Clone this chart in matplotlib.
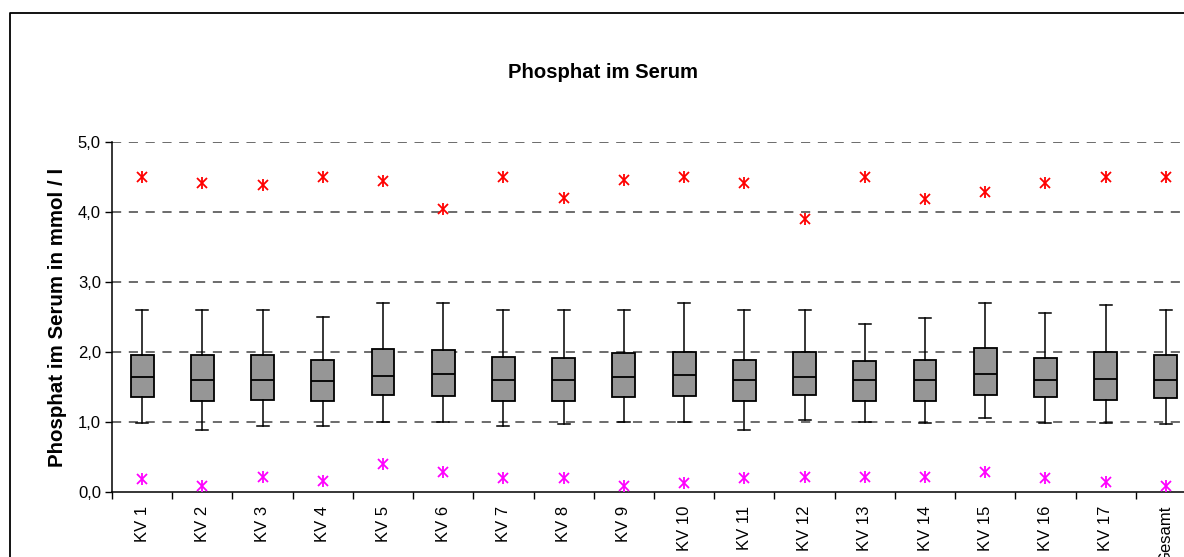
import matplotlib
matplotlib.use("Agg")
import matplotlib.pyplot as plt
from matplotlib.lines import Line2D

plt.rcParams['font.family'] = ['Liberation Sans', 'DejaVu Sans']

# Daten
kategorien = ['KV 1', 'KV 2', 'KV 3', 'KV 4', 'KV 5', 'KV 6', 'KV 7', 'KV 8', 'KV 9',
              'KV 10', 'KV 11', 'KV 12', 'KV 13', 'KV 14', 'KV 15', 'KV 16', 'KV 17', 'Gesamt']
maximum = [4.50, 4.42, 4.39, 4.50, 4.44, 4.05, 4.50, 4.20, 4.46,
           4.50, 4.41, 3.90, 4.50, 4.18, 4.29, 4.41, 4.50, 4.50]
whisker_oben = [2.60, 2.60, 2.60, 2.50, 2.70, 2.70, 2.60, 2.60, 2.60,
                2.70, 2.60, 2.60, 2.40, 2.49, 2.70, 2.56, 2.67, 2.60]
q3 = [1.96, 1.96, 1.96, 1.89, 2.04, 2.03, 1.93, 1.91, 1.98,
      2.00, 1.89, 2.00, 1.87, 1.89, 2.06, 1.91, 2.00, 1.96]
median = [1.64, 1.60, 1.60, 1.58, 1.66, 1.69, 1.60, 1.60, 1.64,
          1.67, 1.60, 1.65, 1.60, 1.60, 1.69, 1.60, 1.62, 1.60]
q1 = [1.36, 1.30, 1.32, 1.30, 1.39, 1.37, 1.30, 1.30, 1.36,
      1.37, 1.30, 1.39, 1.30, 1.30, 1.39, 1.36, 1.32, 1.34]
whisker_unten = [0.98, 0.89, 0.95, 0.95, 1.00, 1.00, 0.95, 0.97, 1.00,
                 1.00, 0.89, 1.03, 1.00, 0.98, 1.06, 0.98, 0.98, 0.97]
minimum = [0.19, 0.09, 0.22, 0.16, 0.40, 0.29, 0.20, 0.20, 0.09,
           0.13, 0.20, 0.22, 0.22, 0.22, 0.28, 0.20, 0.14, 0.09]

positionen = list(range(1, len(kategorien) + 1))

stats = []
for i in range(len(kategorien)):
    stats.append({'med': median[i], 'q1': q1[i], 'q3': q3[i],
                  'whislo': whisker_unten[i], 'whishi': whisker_oben[i],
                  'fliers': [], 'label': kategorien[i]})

fig = plt.figure(figsize=(11.84, 5.57), dpi=100)
ax = fig.add_axes([112 / 1184, 1 - 492 / 557, 1084 / 1184, 350 / 557])

ax.bxp(stats, positions=positionen, widths=0.38, capwidths=0.2, patch_artist=True,
       boxprops=dict(facecolor='#969696', edgecolor='black', linewidth=1.3),
       medianprops=dict(color='black', linewidth=1.3),
       whiskerprops=dict(color='black', linewidth=1.1),
       capprops=dict(color='black', linewidth=1.1),
       zorder=3)

# Sternsymbole (X plus senkrechter Strich) fuer Maximum und Minimum
for werte, farbe in [(maximum, '#ff0000'), (minimum, '#ff00ff')]:
    ax.plot(positionen, werte, linestyle='none', marker='x', markersize=6.5,
            markeredgewidth=1.3, color=farbe, zorder=4)
    ax.plot(positionen, werte, linestyle='none', marker='|', markersize=8,
            markeredgewidth=1.3, color=farbe, zorder=4)

ax.set_xlim(0.5, len(kategorien) + 0.5)
ax.set_ylim(0, 5)
ax.set_yticks([0, 1, 2, 3, 4, 5])
ax.set_yticklabels(['0,0', '1,0', '2,0', '3,0', '4,0', '5,0'], fontsize=12)
ax.set_xticks(positionen)
ax.set_xticklabels(kategorien, rotation=90, fontsize=12)
ax.set_xticks([p + 0.5 for p in range(0, len(kategorien) + 1)], minor=True)
ax.tick_params(axis='x', which='major', length=0, pad=10)
ax.tick_params(axis='x', which='minor', length=5, width=1)
ax.tick_params(axis='y', length=5, width=1, pad=3)

for y in [1, 2, 3, 4, 5]:
    ax.axhline(y, color='#444444', linestyle=(0, (6, 5)), linewidth=1.1, zorder=1)

ax.spines['top'].set_visible(False)
ax.spines['right'].set_visible(False)
ax.spines['left'].set_linewidth(1.1)
ax.spines['bottom'].set_linewidth(1.1)

ax.set_ylabel('Phosphat im Serum in mmol / l', fontsize=14.8, fontweight='bold', labelpad=8)
fig.text(603 / 1184, 1 - 72 / 557, 'Phosphat im Serum', fontsize=14.6, fontweight='bold',
         ha='center', va='center')

# Rahmen der Grafik
fig.add_artist(Line2D([10 / 1184, 10 / 1184, 1.0], [0.0, 1 - 13 / 557, 1 - 13 / 557],
                      transform=fig.transFigure, color='black', linewidth=1.3))

fig.savefig('out.png', dpi=100)
